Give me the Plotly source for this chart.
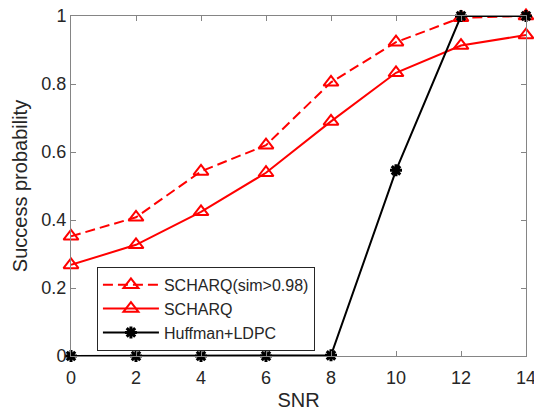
import plotly.graph_objects as go

snr = [0, 2, 4, 6, 8, 10, 12, 14]
scharq_sim = [0.352, 0.408, 0.543, 0.620, 0.805, 0.923, 0.995, 1.0]
scharq = [0.268, 0.327, 0.424, 0.539, 0.690, 0.833, 0.913, 0.944]
huffman_ldpc = [0.0, 0.0, 0.0, 0.0, 0.002, 0.546, 1.0, 1.0]

x_ticks = [0, 2, 4, 6, 8, 10, 12, 14]
y_ticks = [0, 0.2, 0.4, 0.6, 0.8, 1]
y_tick_labels = ["0", "0.2", "0.4", "0.6", "0.8", "1"]

FONT = "Liberation Sans, Arial, Helvetica, sans-serif"
TXT = "#262626"
AX = "#858585"

fig = go.Figure()
fig.add_trace(go.Scatter(
    x=snr, y=scharq_sim, mode="lines+markers", name="SCHARQ(sim>0.98)",
    line=dict(color="#ff0000", width=2, dash="10px,5px"),
    marker=dict(symbol="triangle-up-open", size=13, color="#ff0000",
                line=dict(width=2, color="#ff0000")),
    cliponaxis=False,
))
fig.add_trace(go.Scatter(
    x=snr, y=scharq, mode="lines+markers", name="SCHARQ",
    line=dict(color="#ff0000", width=2),
    marker=dict(symbol="triangle-up-open", size=13, color="#ff0000",
                line=dict(width=2, color="#ff0000")),
    cliponaxis=False,
))
fig.add_trace(go.Scatter(
    x=snr, y=huffman_ldpc, mode="lines+markers", name="Huffman+LDPC",
    line=dict(color="#000000", width=2),
    marker=dict(symbol="asterisk-open", size=10, color="#000000",
                line=dict(width=3, color="#000000")),
    cliponaxis=False,
))

fig.update_layout(
    width=534, height=411,
    margin=dict(l=71, r=8, t=16, b=55),
    paper_bgcolor="white", plot_bgcolor="white",
    font=dict(family=FONT, color=TXT, size=18),
    showlegend=True,
    legend=dict(
        x=0.057, y=0.262, xanchor="left", yanchor="top",
        bgcolor="white", bordercolor="#262626", borderwidth=1,
        font=dict(family=FONT, size=16, color=TXT),
        tracegroupgap=0, itemwidth=56,
    ),
    xaxis=dict(
        range=[0, 14], tickvals=x_ticks, ticks="inside", ticklen=5,
        tickcolor=AX, linecolor=AX, linewidth=1, showline=True,
        mirror="ticks", showgrid=False, zeroline=False, automargin=False,
        ticklabeloverflow="allow", ticklabelstandoff=5,
        tickfont=dict(size=18, color=TXT),
        title=dict(text="SNR", font=dict(size=20, color=TXT), standoff=10),
    ),
    yaxis=dict(
        range=[0, 1], tickvals=y_ticks, ticktext=y_tick_labels,
        ticks="inside", ticklen=5,
        tickcolor=AX, linecolor=AX, linewidth=1, showline=True,
        mirror="ticks", showgrid=False, zeroline=False, automargin=False,
        ticklabeloverflow="allow",
        tickfont=dict(size=18, color=TXT),
        title=dict(text="Success probability", font=dict(size=20, color=TXT), standoff=8),
    ),
)

fig.write_html(
    "out.html",
    config={"displayModeBar": False},
    post_script="document.body.style.margin='0';document.body.style.padding='0';",
)
